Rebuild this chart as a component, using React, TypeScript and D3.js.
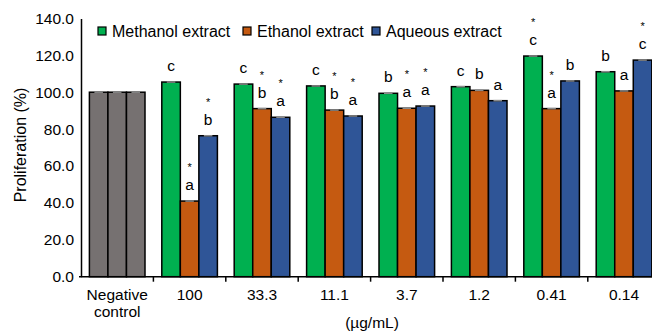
import * as d3 from 'd3';
import { useEffect, useRef } from 'react';

const categories = ['Negative control', '100', '33.3', '11.1', '3.7', '1.2', '0.41', '0.14'];
const seriesNames = ['Methanol extract', 'Ethanol extract', 'Aqueous extract'];
const seriesColors = ['#00b050', '#c55a11', '#2f5597'];
const controlColor = '#767171';

const methanol = [100, 105.5, 104.4, 103.4, 99.4, 103.0, 119.6, 111.1];
const ethanol = [100, 41.0, 91.1, 90.3, 91.3, 101.0, 91.1, 100.7];
const aqueous = [100, 76.4, 86.4, 87.1, 92.5, 95.4, 106.1, 117.4];

const methanolLetters = ['', 'c', 'c', 'c', 'b', 'c', 'c', 'b'];
const ethanolLetters = ['', 'a', 'b', 'b', 'a', 'b', 'a', 'a'];
const aqueousLetters = ['', 'b', 'a', 'a', 'a', 'a', 'b', 'c'];

const methanolStars = [false, false, false, false, false, false, true, false];
const ethanolStars = [false, true, true, true, true, false, true, false];
const aqueousStars = [false, true, true, true, true, false, false, true];

const yTicks = [0, 20, 40, 60, 80, 100, 120, 140];

export default function App() {
  const svgRef = useRef<SVGSVGElement>(null);

  useEffect(() => {
    const width = 652;
    const height = 334;
    const font = 'Arial, "Liberation Sans", Helvetica, sans-serif';
    const fs = 15.5;
    const left = 81;
    const top = 18.4;
    const bottom = 276.7;
    const band = 72.4;

    const svg = d3.select(svgRef.current);
    svg.selectAll('*').remove();
    svg.attr('width', width).attr('height', height);

    const x0 = d3.scaleBand().domain(categories).range([left, left + band * categories.length]);
    const x1 = d3.scaleBand().domain(seriesNames).range([8.4, band - 8.4]);
    const y = d3.scaleLinear().domain([0, 140]).range([bottom, top]);

    const values = [methanol, ethanol, aqueous];
    const letters = [methanolLetters, ethanolLetters, aqueousLetters];
    const stars = [methanolStars, ethanolStars, aqueousStars];

    const rows = categories.flatMap((c, i) =>
      seriesNames.map((s, j) => ({
        cat: c,
        series: s,
        value: values[j][i],
        letter: letters[j][i],
        star: stars[j][i],
        color: i === 0 ? controlColor : seriesColors[j],
      })),
    );

    const g = svg.append('g');

    g.selectAll('rect.bar')
      .data(rows)
      .enter()
      .append('rect')
      .attr('class', 'bar')
      .attr('x', (d) => (x0(d.cat) as number) + (x1(d.series) as number))
      .attr('width', x1.bandwidth())
      .attr('y', (d) => y(d.value))
      .attr('height', (d) => bottom - y(d.value))
      .attr('fill', (d) => d.color)
      .attr('stroke', '#000')
      .attr('stroke-width', 1.5);

    // small grey error caps
    g.selectAll('line.cap')
      .data(rows)
      .enter()
      .append('line')
      .attr('x1', (d) => (x0(d.cat) as number) + (x1(d.series) as number) + 5)
      .attr('x2', (d) => (x0(d.cat) as number) + (x1(d.series) as number) + x1.bandwidth() - 5)
      .attr('y1', (d) => y(d.value))
      .attr('y2', (d) => y(d.value))
      .attr('stroke', '#8a8a8a')
      .attr('stroke-width', 1.5);

    const cx = (d: any) => (x0(d.cat) as number) + (x1(d.series) as number) + x1.bandwidth() / 2;

    g.selectAll('text.letter')
      .data(rows.filter((d) => d.letter))
      .enter()
      .append('text')
      .attr('x', cx)
      .attr('y', (d) => y(d.value) - 11)
      .attr('text-anchor', 'middle')
      .attr('font-family', font)
      .attr('font-size', fs)
      .text((d) => d.letter);

    g.selectAll('text.star')
      .data(rows.filter((d) => d.star))
      .enter()
      .append('text')
      .attr('x', cx)
      .attr('y', (d) => y(d.value) - 30)
      .attr('text-anchor', 'middle')
      .attr('font-family', font)
      .attr('font-size', 11)
      .attr('fill', '#000')
      .text('*');

    // y axis
    const yAxis = g.append('g').attr('transform', `translate(${left},0)`).call(
      d3.axisLeft(y).tickValues(yTicks).tickSize(0).tickPadding(7).tickFormat((d) => (d as number).toFixed(1)),
    );
    yAxis.select('.domain').attr('stroke', '#000').attr('stroke-width', 1.5);
    yAxis.selectAll('text').attr('font-family', font).attr('font-size', fs).attr('fill', '#000');

    // x axis
    g.append('line')
      .attr('x1', left - 2)
      .attr('x2', left + band * categories.length)
      .attr('y1', bottom)
      .attr('y2', bottom)
      .attr('stroke', '#000')
      .attr('stroke-width', 1.5);

    g.selectAll('line.xtick')
      .data(categories.slice(1))
      .enter()
      .append('line')
      .attr('x1', (d) => x0(d) as number)
      .attr('x2', (d) => x0(d) as number)
      .attr('y1', bottom)
      .attr('y2', bottom + 5)
      .attr('stroke', '#000')
      .attr('stroke-width', 1.5);

    const xl = g.selectAll('text.xl')
      .data(categories)
      .enter()
      .append('text')
      .attr('x', (d) => (x0(d) as number) + band / 2)
      .attr('y', 300)
      .attr('text-anchor', 'middle')
      .attr('font-family', font)
      .attr('font-size', fs);
    xl.each(function (d) {
      const parts = d === 'Negative control' ? ['Negative', 'control'] : [d];
      parts.forEach((p, i) => {
        d3.select(this)
          .append('tspan')
          .attr('x', (x0(d) as number) + band / 2)
          .attr('dy', i === 0 ? 0 : 17)
          .text(p);
      });
    });

    g.append('text')
      .attr('x', 372)
      .attr('y', 328)
      .attr('text-anchor', 'middle')
      .attr('font-family', font)
      .attr('font-size', fs)
      .text('(µg/mL)');

    g.append('text')
      .attr('transform', `translate(26,145) rotate(-90)`)
      .attr('text-anchor', 'middle')
      .attr('font-family', font)
      .attr('font-size', 16)
      .text('Proliferation (%)');

    // legend
    const legendX = [98, 243, 372];
    const lg = g.selectAll('g.leg')
      .data(seriesNames)
      .enter()
      .append('g')
      .attr('transform', (d, i) => `translate(${legendX[i]},27)`);
    lg.append('rect')
      .attr('width', 8)
      .attr('height', 8)
      .attr('fill', (d, i) => seriesColors[i])
      .attr('stroke', '#000')
      .attr('stroke-width', 1.2);
    lg.append('text')
      .attr('x', 14)
      .attr('y', 9.5)
      .attr('font-family', font)
      .attr('font-size', 16)
      .text((d) => d);
  }, []);

  return (
    <svg ref={svgRef} style={{ position: 'absolute', left: 0, top: 0, display: 'block' }}></svg>
  );
}
